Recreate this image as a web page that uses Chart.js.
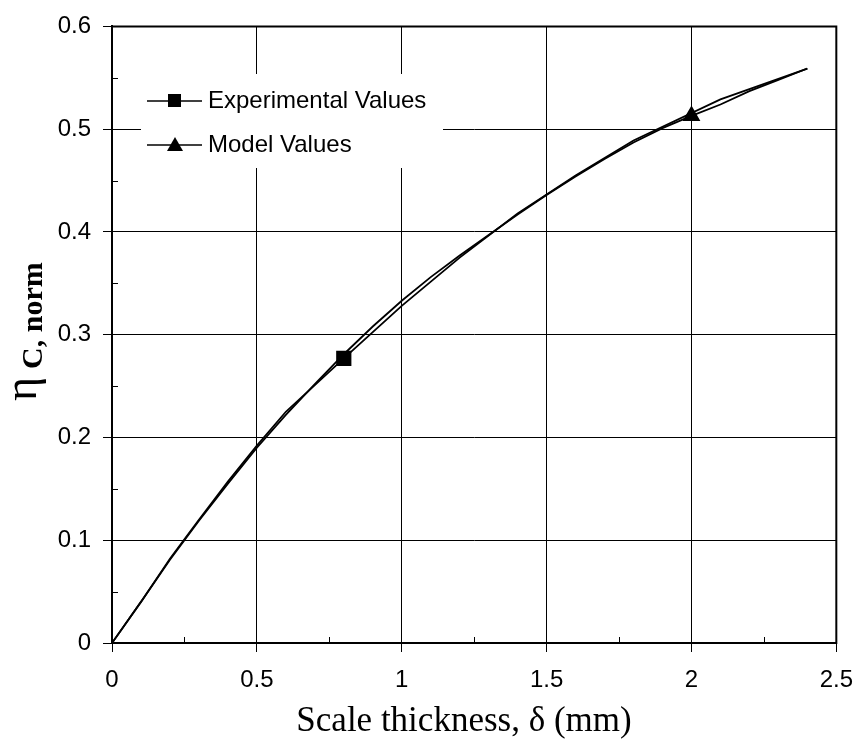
<!DOCTYPE html>
<html>
<head>
<meta charset="utf-8">
<script src="https://cdn.jsdelivr.net/npm/chart.js@4/dist/chart.umd.min.js"></script>
<style>
  html,body{margin:0;padding:0;background:#fff;}
  #wrap{width:867px;height:746px;position:relative;}
</style>
</head>
<body>
<div id="wrap"><canvas id="c" width="867" height="746"></canvas></div>
<script>
// ---- data ----
const expX = [0, 0.1, 0.2, 0.3, 0.4, 0.5, 0.6, 0.8, 1.0, 1.2, 1.4, 1.6, 1.8, 2.1, 2.4];
const expY = [0, 0.040, 0.082, 0.120, 0.157, 0.192, 0.225, 0.277, 0.328, 0.375, 0.418, 0.455, 0.489, 0.529, 0.559];
const modelX = [0, 0.1, 0.2, 0.3, 0.4, 0.5, 0.6, 0.7, 0.8, 0.9, 1.0, 1.1, 1.2, 1.3, 1.4, 1.5, 1.6, 1.7, 1.8, 1.9, 2.0, 2.1, 2.2, 2.3, 2.4];
const modelY = [0, 0.040, 0.081, 0.119, 0.155, 0.190, 0.222, 0.252, 0.281, 0.308, 0.333, 0.356, 0.377, 0.397, 0.417, 0.436, 0.454, 0.471, 0.487, 0.501, 0.513, 0.524, 0.537, 0.548, 0.559];
const expMarkerX = 0.8;
const modelMarkerX = 2.0;
const seriesNames = ["Experimental Values", "Model Values"];
const xTitle = "Scale thickness, δ (mm)";
const yTitleMain = "η";
const yTitleSub = "C, norm";

const expData = expX.map((x, i) => ({x: x, y: expY[i]}));
const modelData = modelX.map((x, i) => ({x: x, y: modelY[i]}));

const SANS = "'Liberation Sans', Arial, sans-serif";
const SERIF = "'Liberation Serif', 'Times New Roman', serif";

const decor = {
  id: 'decor',
  afterDatasetsDraw(chart) {
    const ctx = chart.ctx;
    const xs = chart.scales.x, ys = chart.scales.y;
    const ca = chart.chartArea;
    ctx.save();
    // border
    ctx.strokeStyle = '#000';
    ctx.lineWidth = 2;
    ctx.beginPath();
    ctx.moveTo(ca.left, ca.bottom);
    ctx.lineTo(ca.left, ca.top);
    ctx.lineTo(ca.right, ca.top);
    ctx.lineTo(ca.right, ca.bottom);
    ctx.lineTo(ca.left, ca.bottom);
    ctx.stroke();
    // minor ticks
    ctx.lineWidth = 1;
    ctx.beginPath();
    for (let v = 0.25; v < 2.5; v += 0.5) {
      const px = Math.round(xs.getPixelForValue(v)) + 0.5;
      ctx.moveTo(px, ca.bottom);
      ctx.lineTo(px, ca.bottom - 6);
    }
    for (let v = 0.05; v < 0.6; v += 0.1) {
      const py = Math.round(ys.getPixelForValue(v)) + 0.5;
      ctx.moveTo(ca.left, py);
      ctx.lineTo(ca.left + 6, py);
    }
    ctx.stroke();

    // legend box
    ctx.fillStyle = '#fff';
    ctx.fillRect(141, 74, 302, 94);
    const rows = [{y: 101, style: 'rect'}, {y: 145, style: 'triangle'}];
    rows.forEach((r, i) => {
      ctx.strokeStyle = '#000';
      ctx.lineWidth = 1.5;
      ctx.beginPath();
      ctx.moveTo(147, r.y);
      ctx.lineTo(202, r.y);
      ctx.stroke();
      ctx.fillStyle = '#000';
      if (r.style === 'rect') {
        ctx.fillRect(168, r.y - 7, 13, 13);
      } else {
        ctx.beginPath();
        ctx.moveTo(175, r.y - 8);
        ctx.lineTo(183, r.y + 6);
        ctx.lineTo(167, r.y + 6);
        ctx.closePath();
        ctx.fill();
      }
      ctx.font = '24px ' + SANS;
      ctx.textBaseline = 'middle';
      ctx.textAlign = 'left';
      ctx.fillText(seriesNames[i], 208, r.y);
    });

    // x title
    ctx.fillStyle = '#000';
    ctx.font = '35px ' + SERIF;
    ctx.textAlign = 'center';
    ctx.textBaseline = 'alphabetic';
    ctx.fillText(xTitle, 464, 731);

    // y title (rotated)
    ctx.save();
    ctx.rotate(-Math.PI / 2);
    ctx.textAlign = 'left';
    ctx.font = '46px ' + SERIF;
    const startY = 401;
    ctx.fillText(yTitleMain, -startY, 36);
    const w1 = ctx.measureText(yTitleMain).width;
    ctx.font = 'bold 30px ' + SERIF;
    ctx.fillText(yTitleSub, -startY + w1 + 8, 42);
    ctx.restore();

    ctx.restore();
  }
};

new Chart(document.getElementById('c'), {
  type: 'scatter',
  data: {
    datasets: [
      {
        label: seriesNames[0],
        data: expData,
        showLine: true,
        borderColor: '#000',
        backgroundColor: '#000',
        borderWidth: 1.8,
        tension: 0,
        pointStyle: 'rect',
        pointRadius: ctx => (ctx.raw && ctx.raw.x === expMarkerX) ? 9.5 : 0,
        pointHoverRadius: 0
      },
      {
        label: seriesNames[1],
        data: modelData,
        showLine: true,
        borderColor: '#000',
        backgroundColor: '#000',
        borderWidth: 1.8,
        tension: 0,
        pointStyle: 'triangle',
        pointRadius: ctx => (ctx.raw && ctx.raw.x === modelMarkerX) ? 8.5 : 0,
        pointHoverRadius: 0
      }
    ]
  },
  options: {
    responsive: false,
    animation: false,
    events: [],
    layout: {padding: {top: 23, right: 24, left: 0, bottom: 0}},
    plugins: {legend: {display: false}, tooltip: {enabled: false}},
    scales: {
      x: {
        type: 'linear',
        min: 0, max: 2.5,
        ticks: {stepSize: 0.5, color: '#000', font: {family: SANS, size: 24}, padding: 14, maxRotation: 0,
                callback: v => String(Math.round(v * 10) / 10)},
        grid: {color: '#000', lineWidth: 1, tickLength: 9, drawTicks: true},
        border: {display: true, color: '#000', width: 2},
        afterFit(s) { s.height = 103; }
      },
      y: {
        type: 'linear',
        min: 0, max: 0.6,
        ticks: {stepSize: 0.1, color: '#000', font: {family: SANS, size: 24}, padding: 12,
                callback: v => String(Math.round(v * 10) / 10)},
        grid: {color: '#000', lineWidth: 1, tickLength: 9, drawTicks: true},
        border: {display: true, color: '#000', width: 2},
        afterFit(s) { s.width = 112; }
      }
    }
  },
  plugins: [decor]
});
</script>
</body>
</html>
